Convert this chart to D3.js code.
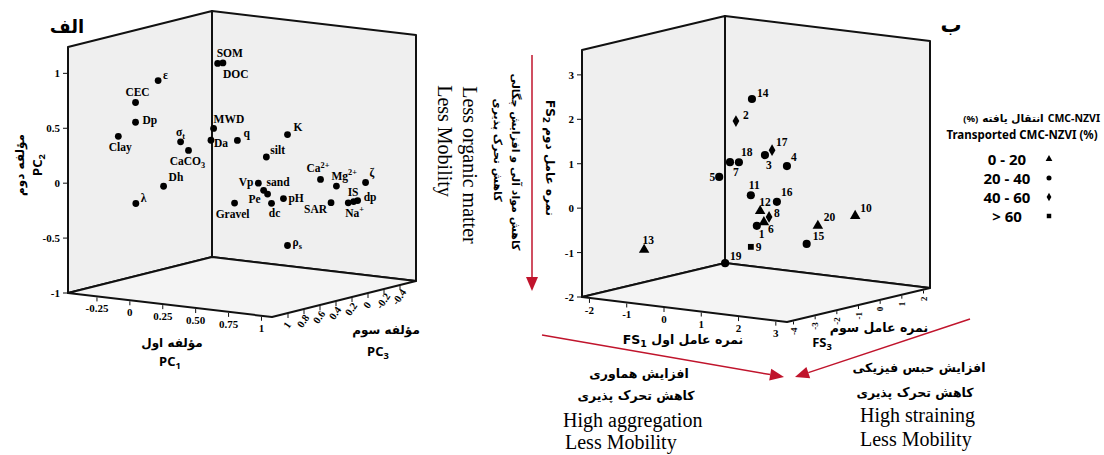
<!DOCTYPE html>
<html>
<head>
<meta charset="utf-8">
<script src="https://cdn.jsdelivr.net/npm/d3@7"></script>
<style>
  body { margin: 0; background: #fff; }
</style>
</head>
<body>
<div id="chart"></div>
<script>
// ---- Left panel (الف): PCA loadings ----
const pcNames = ["ε", "CEC", "Dp", "Clay", "σ_t", "CaCO_3", "Dh", "λ", "SOM", "DOC",
  "MWD", "Da", "q", "K", "silt", "Ca^2+", "Mg^2+", "ζ", "Vp", "sand",
  "Pe", "dc", "pH", "Gravel", "SAR", "Na^+", "IS", "dp", "ρ_s"];
const pc1 = [-0.15, -0.20, -0.20, -0.27, -0.04, 0.02, -0.23, -0.38, 0.12, 0.16,
  0.15, 0.13, 0.27, 0.59, 0.49, 0.78, 0.84, 0.94, 0.49, 0.53,
  0.56, 0.59, 0.62, 0.37, 0.86, 0.93, 0.91, 0.91, 0.59];
const pc2 = [0.87, 0.70, 0.52, 0.40, 0.31, 0.24, -0.14, -0.30, 1.01, 1.02,
  0.44, 0.33, 0.33, 0.41, 0.21, 0.01, -0.06, -0.05, -0.01, -0.07,
  -0.10, -0.18, -0.15, -0.19, -0.19, -0.20, -0.21, -0.21, -0.60];
const pc3 = [0.6, 0.8, 0.8, 0.9, 0.5, 0.5, 0.4, 0.5, 0.3, 0.3,
  0.4, 0.4, 0.3, 0.2, 0.3, 0.1, 0, -0.2, 0.4, 0.4,
  0.4, 0.4, 0.3, 0.5, 0.1, 0, -0.1, -0.15, 0.2];

const pc1Ticks = [-0.25, 0, 0.25, 0.5, 0.75, 1];
const pc1TickLabels = ["-0.25", "0", "0.25", "0.50", "0.75", "1"];
const pc2Ticks = [-1, -0.5, 0, 0.5, 1];
const pc3Ticks = [1, 0.8, 0.6, 0.4, 0.2, 0, -0.2, -0.4];

// ---- Right panel (ب): factor scores of the 20 soils ----
const sampleIds = [1, 2, 3, 4, 5, 6, 7, 8, 9, 10, 11, 12, 13, 14, 15, 16, 17, 18, 19, 20];
const fs1 = [-0.30, -0.86, 0.50, 1.38, -1.60, 0.18, -1.02, 0.61, -0.46, 2.92,
  -0.17, 0.08, -1.87, -0.14, 2.20, 0.82, 0.69, -0.49, -0.86, 2.50];
const fs2 = [-0.76, 1.54, 1.03, 0.93, 0.15, -0.57, 0.60, -0.35, -1.25, -0.09,
  0.00, -0.33, -1.17, 2.17, -0.68, 0.01, 1.16, 0.71, -1.60, -0.24];
const fs3 = [0.5, 0.5, -0.5, -1, 1, 0, 0.5, -0.5, 0.5, -0.5,
  0, 0, -2, 0, -1.5, -0.5, -0.5, 0, 0, -1.5];
// transported CMC-NZVI class: 0 = 0-20, 1 = 20-40, 2 = 40-60, 3 = >60
const transportClass = [1, 2, 1, 1, 1, 0, 1, 2, 3, 0,
  1, 0, 0, 1, 1, 1, 2, 1, 1, 0];
const classLabels = ["0 - 20", "20 - 40", "40 - 60", "> 60"];

const fs1Ticks = [-2, -1, 0, 1, 2, 3];
const fs2Ticks = [-2, -1, 0, 1, 2, 3];
const fs3Ticks = [-4, -3, -2, -1, 0, 1, 2];

// ---- Drawing ----
const width = 1104, height = 455;
const serif = "'Liberation Serif', 'Times New Roman', serif";
const sans = "'Noto Sans', 'DejaVu Sans', sans-serif";
const arabic = "'DejaVu Sans', sans-serif";
const red = '#c0142c';

const svg = d3.select('#chart')
  .append('svg')
  .attr('width', width)
  .attr('height', height)
  .attr('viewBox', `0 0 ${width} ${height}`);

// oblique projection of a 3D box: origin, and screen vectors of the x, y, z edges
function makeBox(o, ex, ey, ez, xs, ys, zs) {
  const p = (a, b, c) => {
    const u = xs(a), v = ys(b), w = zs(c);
    return [o[0] + ex[0] * u + ez[0] * w + ey[0] * v,
            o[1] + ex[1] * u + ez[1] * w + ey[1] * v];
  };
  p.xs = xs; p.ys = ys; p.zs = zs;
  return p;
}

function drawFrame(p) {
  const [x0, x1] = p.xs.domain(), [y0, y1] = p.ys.domain(), [z0, z1] = p.zs.domain();
  const faces = [
    [[x0, y0, z0], [x0, y0, z1], [x0, y1, z1], [x0, y1, z0]],  // left wall
    [[x0, y0, z1], [x1, y0, z1], [x1, y1, z1], [x0, y1, z1]],  // back wall
    [[x0, y0, z0], [x1, y0, z0], [x1, y0, z1], [x0, y0, z1]]   // floor
  ];
  svg.append('g').selectAll('polygon')
    .data(faces)
    .join('polygon')
    .attr('points', d => d.map(c => p(...c).join(',')).join(' '))
    .attr('fill', (d, i) => i === 2 ? '#f4f4f4' : '#efefef')
    .attr('stroke', '#111')
    .attr('stroke-width', 2)
    .attr('stroke-linejoin', 'round');
}

// label with a simple _sub or ^sup part
function richText(sel, str, size) {
  const m = str.match(/^([^_^]*)([_^])(.*)$/);
  if (!m) { sel.text(str); return; }
  sel.append('tspan').text(m[1]);
  sel.append('tspan')
    .attr('font-size', size * 0.72)
    .attr('dy', m[2] === '_' ? size * 0.25 : -size * 0.4)
    .text(m[3]);
}

function arrow(x1, y1, x2, y2) {
  const a = Math.atan2(y2 - y1, x2 - x1), L = 14, W = 6;
  const bx = x2 - L * Math.cos(a), by = y2 - L * Math.sin(a);
  svg.append('line')
    .attr('x1', x1).attr('y1', y1).attr('x2', bx).attr('y2', by)
    .attr('stroke', red).attr('stroke-width', 1.5);
  svg.append('polygon')
    .attr('points', [[x2, y2],
      [bx + W * Math.sin(a), by - W * Math.cos(a)],
      [bx - W * Math.sin(a), by + W * Math.cos(a)]].map(q => q.join(',')).join(' '))
    .attr('fill', red);
}

// ===== Left panel =====
const pL = makeBox([68, 293], [204, 24], [0, -246], [144, -36],
  d3.scaleLinear().domain([-0.47, 1.08]).range([0, 1]),
  d3.scaleLinear().domain([-1, 1.24]).range([0, 1]),
  d3.scaleLinear().domain([1.2, -0.6]).range([0, 1]));
drawFrame(pL);

const [lx0, lx1] = pL.xs.domain(), [ly0] = pL.ys.domain(), [lz0] = pL.zs.domain();

// PC2 ticks (front-left edge)
pc2Ticks.forEach(t => {
  const [x, y] = pL(lx0, t, lz0);
  svg.append('line').attr('x1', x - 5).attr('x2', x).attr('y1', y).attr('y2', y)
    .attr('stroke', '#111').attr('stroke-width', 1);
  svg.append('text').attr('x', x - 8).attr('y', y + 4)
    .attr('text-anchor', 'end').attr('font-family', serif).attr('font-weight', 'bold')
    .attr('font-size', 11).text(t);
});

// PC1 ticks (front edge)
pc1Ticks.forEach((t, i) => {
  const [x, y] = pL(t, ly0, lz0);
  svg.append('line').attr('x1', x).attr('x2', x).attr('y1', y + 1).attr('y2', y + 5)
    .attr('stroke', '#111').attr('stroke-width', 1);
  svg.append('text').attr('x', x).attr('y', y + 16)
    .attr('text-anchor', 'middle').attr('font-family', serif).attr('font-weight', 'bold')
    .attr('font-size', 11).text(pc1TickLabels[i]);
});

// PC3 ticks (right floor edge)
pc3Ticks.forEach(t => {
  const [x, y] = pL(lx1, ly0, t);
  svg.append('line').attr('x1', x).attr('x2', x).attr('y1', y + 1).attr('y2', y + 5)
    .attr('stroke', '#111').attr('stroke-width', 1);
  svg.append('text')
    .attr('transform', `translate(${x + 2},${y + 14}) rotate(-55)`)
    .attr('text-anchor', 'middle').attr('font-family', serif).attr('font-weight', 'bold')
    .attr('font-size', 10.5).text(t);
});

// label placement next to each loading point: [dx, dy, anchor]
const pcLabelPos = {
  "ε": [5, -2, 'start'], "CEC": [2, -6, 'middle'], "Dp": [7, 2, 'start'],
  "Clay": [2, 15, 'middle'], "σ_t": [0, -6, 'middle'], "CaCO_3": [-1, 15, 'middle'],
  "Dh": [5, -5, 'start'], "λ": [5, -2, 'start'], "SOM": [-1, -6, 'start'],
  "DOC": [0, 15, 'start'], "MWD": [0, -5, 'start'], "Da": [3, 7, 'start'],
  "q": [6, -3, 'start'], "K": [6, -4, 'start'], "silt": [4, -3, 'start'],
  "Ca^2+": [-14, -7, 'start'], "Mg^2+": [-5, -6, 'start'], "ζ": [4, -6, 'start'],
  "Vp": [-5, 3, 'end'], "sand": [3, -4, 'start'], "Pe": [-7, 9, 'end'],
  "dc": [3, 14, 'middle'], "pH": [5, 3, 'start'], "Gravel": [-2, 15, 'middle'],
  "SAR": [-4, 10, 'end'], "Na^+": [-3, 14, 'start'], "IS": [-6, -6, 'start'],
  "dp": [6, 0, 'start'], "ρ_s": [5, 1, 'start']
};

const gL = svg.append('g');
pcNames.forEach((name, i) => {
  const [x, y] = pL(pc1[i], pc2[i], pc3[i]);
  gL.append('circle').attr('cx', x).attr('cy', y).attr('r', 3.4).attr('fill', '#000');
  const [dx, dy, anchor] = pcLabelPos[name];
  const t = gL.append('text').attr('x', x + dx).attr('y', y + dy)
    .attr('text-anchor', anchor).attr('font-family', serif).attr('font-weight', 'bold')
    .attr('font-size', 11.5);
  richText(t, name, 11.5);
});

// left panel titles
svg.append('text').attr('x', 67).attr('y', 33).attr('text-anchor', 'middle')
  .attr('font-family', arabic).attr('font-weight', 'bold').attr('font-size', 18).text('الف');

svg.append('text').attr('transform', 'translate(24,165) rotate(-90)').attr('text-anchor', 'middle')
  .attr('font-family', arabic).attr('font-weight', 'bold').attr('font-size', 12).text('مؤلفه دوم');
const pc2Title = svg.append('text').attr('transform', 'translate(42,165) rotate(-90)')
  .attr('text-anchor', 'middle').attr('font-family', sans).attr('font-weight', 'bold').attr('font-size', 13);
richText(pc2Title, 'PC_2', 13);

svg.append('text').attr('x', 172).attr('y', 347).attr('text-anchor', 'middle')
  .attr('font-family', arabic).attr('font-weight', 'bold').attr('font-size', 12).text('مؤلفه اول');
const pc1Title = svg.append('text').attr('x', 170).attr('y', 366).attr('text-anchor', 'middle')
  .attr('font-family', sans).attr('font-weight', 'bold').attr('font-size', 13);
richText(pc1Title, 'PC_1', 13);

svg.append('text').attr('x', 386).attr('y', 334).attr('text-anchor', 'middle')
  .attr('font-family', arabic).attr('font-weight', 'bold').attr('font-size', 12).text('مؤلفه سوم');
const pc3Title = svg.append('text').attr('x', 378).attr('y', 356).attr('text-anchor', 'middle')
  .attr('font-family', sans).attr('font-weight', 'bold').attr('font-size', 13);
richText(pc3Title, 'PC_3', 13);

// middle annotation (organic matter)
svg.append('text').attr('transform', 'translate(463,165) rotate(90)').attr('text-anchor', 'middle')
  .attr('font-family', serif).attr('font-size', 20).text('Less organic matter');
svg.append('text').attr('transform', 'translate(438,141) rotate(90)').attr('text-anchor', 'middle')
  .attr('font-family', serif).attr('font-size', 20).text('Less Mobility');
svg.append('text').attr('transform', 'translate(512,162) rotate(90)').attr('text-anchor', 'middle')
  .attr('font-family', arabic).attr('font-weight', 'bold').attr('font-size', 11)
  .text('کاهش مواد آلی و افزایش چگالی');
svg.append('text').attr('transform', 'translate(494,150) rotate(90)').attr('text-anchor', 'middle')
  .attr('font-family', arabic).attr('font-weight', 'bold').attr('font-size', 11)
  .text('کاهش تحرک پذیری');
arrow(532, 55, 532, 291);

// ===== Right panel =====
const pR = makeBox([582, 297], [205, 25], [0, -247], [143, -34],
  d3.scaleLinear().domain([-2.2, 3.3]).range([0, 1]),
  d3.scaleLinear().domain([-2, 3.56]).range([0, 1]),
  d3.scaleLinear().domain([-4.3, 2.3]).range([0, 1]));
drawFrame(pR);

const [rx0, rx1] = pR.xs.domain(), [ry0] = pR.ys.domain(), [rz0] = pR.zs.domain();

fs2Ticks.forEach(t => {
  const [x, y] = pR(rx0, t, rz0);
  svg.append('line').attr('x1', x - 5).attr('x2', x).attr('y1', y).attr('y2', y)
    .attr('stroke', '#111').attr('stroke-width', 1);
  svg.append('text').attr('x', x - 8).attr('y', y + 4)
    .attr('text-anchor', 'end').attr('font-family', serif).attr('font-weight', 'bold')
    .attr('font-size', 11).text(t);
});

fs1Ticks.forEach(t => {
  const [x, y] = pR(t, ry0, rz0);
  svg.append('line').attr('x1', x).attr('x2', x).attr('y1', y + 1).attr('y2', y + 5)
    .attr('stroke', '#111').attr('stroke-width', 1);
  svg.append('text').attr('x', x).attr('y', y + 16)
    .attr('text-anchor', 'middle').attr('font-family', serif).attr('font-weight', 'bold')
    .attr('font-size', 11).text(t);
});

fs3Ticks.forEach(t => {
  const [x, y] = pR(rx1, ry0, t);
  svg.append('line').attr('x1', x).attr('x2', x).attr('y1', y + 1).attr('y2', y + 4)
    .attr('stroke', '#111').attr('stroke-width', 1);
  svg.append('text')
    .attr('transform', `translate(${x + 3},${y + 7}) rotate(-90)`)
    .attr('text-anchor', 'end').attr('font-family', serif).attr('font-weight', 'bold')
    .attr('font-size', 9).text(t);
});

const symbolTypes = [d3.symbolTriangle, d3.symbolCircle, d3.symbolDiamond, d3.symbolSquare];
const symbolSizes = [48, 52, 40, 34];

// label placement next to each sample: [dx, dy, anchor]
const sampleLabelPos = {
  1: [2, 12, 'start'], 2: [7, -2, 'start'], 3: [1, 14, 'start'], 4: [4, -5, 'start'],
  5: [-4, 4, 'end'], 6: [4, 11, 'start'], 7: [3, 14, 'start'], 8: [5, 0, 'start'],
  9: [5, 4, 'start'], 10: [5, -4, 'start'], 11: [-2, -6, 'start'], 12: [-1, -5, 'start'],
  13: [4, -6, 'middle'], 14: [5, -2, 'start'], 15: [6, -4, 'start'], 16: [4, -6, 'start'],
  17: [4, -4, 'start'], 18: [2, -6, 'start'], 19: [5, -3, 'start'], 20: [6, -5, 'start']
};

const gR = svg.append('g');
sampleIds.forEach((id, i) => {
  const [x, y] = pR(fs1[i], fs2[i], fs3[i]);
  const c = transportClass[i];
  gR.append('path')
    .attr('d', d3.symbol().type(symbolTypes[c]).size(symbolSizes[c])())
    .attr('transform', `translate(${x},${y})`)
    .attr('fill', '#000');
  const [dx, dy, anchor] = sampleLabelPos[id];
  gR.append('text').attr('x', x + dx).attr('y', y + dy)
    .attr('text-anchor', anchor).attr('font-family', serif).attr('font-weight', 'bold')
    .attr('font-size', 11.5).text(id);
});

// right panel titles
svg.append('text').attr('x', 951).attr('y', 32).attr('text-anchor', 'middle')
  .attr('font-family', arabic).attr('font-weight', 'bold').attr('font-size', 21).text('ب');

const fs2Title = svg.append('text').attr('transform', 'translate(546,158) rotate(90)')
  .attr('text-anchor', 'middle').attr('font-family', arabic).attr('font-weight', 'bold').attr('font-size', 12);
fs2Title.append('tspan').text('FS');
fs2Title.append('tspan').attr('font-size', 9).attr('dy', 3).text('2');
fs2Title.append('tspan').attr('dy', -3).text(' نمره عامل دوم');

const fs1Title = svg.append('text').attr('x', 683).attr('y', 344)
  .attr('text-anchor', 'middle').attr('font-family', arabic).attr('font-weight', 'bold').attr('font-size', 12.5);
fs1Title.append('tspan').text('FS');
fs1Title.append('tspan').attr('font-size', 9.5).attr('dy', 3).text('1');
fs1Title.append('tspan').attr('dy', -3).text(' نمره عامل اول');

svg.append('text').attr('x', 879).attr('y', 332).attr('text-anchor', 'middle')
  .attr('font-family', arabic).attr('font-weight', 'bold').attr('font-size', 12.5).text('نمره عامل سوم');
const fs3Title = svg.append('text').attr('x', 822).attr('y', 347)
  .attr('text-anchor', 'middle').attr('font-family', sans).attr('font-weight', 'bold').attr('font-size', 13);
richText(fs3Title, 'FS_3', 13);

// legend title: pieces placed right to left so the mixed-direction line reads as in the figure
const legendRight = 1100;
let cursor = legendRight;
['CMC-NZVI', 'انتقال یافته', '(%)'].forEach((piece, i) => {
  const t = svg.append('text').attr('x', cursor).attr('y', 122).attr('text-anchor', 'end')
    .attr('font-family', i === 1 ? arabic : sans).attr('font-weight', 'bold')
    .attr('font-size', i === 2 ? 9.5 : 10.5).text(piece);
  cursor -= t.node().getComputedTextLength() + 4;
});
svg.append('text').attr('x', 1022).attr('y', 139).attr('text-anchor', 'middle')
  .attr('font-family', sans).attr('font-weight', 'bold').attr('font-size', 11.5)
  .text('Transported CMC-NZVI (%)');
const legendY = d3.scalePoint().domain(classLabels).range([159, 216]);
classLabels.forEach((lab, i) => {
  const y = legendY(lab);
  svg.append('text').attr('x', 1007).attr('y', y + 5.5).attr('text-anchor', 'middle')
    .attr('font-family', sans).attr('font-weight', 'bold').attr('font-size', 15).text(lab);
  svg.append('path')
    .attr('d', d3.symbol().type(symbolTypes[i]).size(20)())
    .attr('transform', `translate(1049,${y})`)
    .attr('fill', '#000');
});

// bottom annotations
arrow(542, 335, 784, 377);
arrow(970, 319, 795, 377);

svg.append('text').attr('x', 639).attr('y', 378).attr('text-anchor', 'middle')
  .attr('font-family', arabic).attr('font-weight', 'bold').attr('font-size', 12.5).text('افزایش هماوری');
svg.append('text').attr('x', 636).attr('y', 400).attr('text-anchor', 'middle')
  .attr('font-family', arabic).attr('font-weight', 'bold').attr('font-size', 12.5).text('کاهش تحرک پذیری');
svg.append('text').attr('x', 563).attr('y', 427)
  .attr('font-family', serif).attr('font-size', 20).text('High aggregation');
svg.append('text').attr('x', 565).attr('y', 449)
  .attr('font-family', serif).attr('font-size', 20).text('Less Mobility');

svg.append('text').attr('x', 919).attr('y', 372).attr('text-anchor', 'middle')
  .attr('font-family', arabic).attr('font-weight', 'bold').attr('font-size', 12.5).text('افزایش حبس فیزیکی');
svg.append('text').attr('x', 915).attr('y', 397).attr('text-anchor', 'middle')
  .attr('font-family', arabic).attr('font-weight', 'bold').attr('font-size', 12.5).text('کاهش تحرک پذیری');
svg.append('text').attr('x', 860).attr('y', 422)
  .attr('font-family', serif).attr('font-size', 20).text('High straining');
svg.append('text').attr('x', 860).attr('y', 446)
  .attr('font-family', serif).attr('font-size', 20).text('Less Mobility');
</script>
</body>
</html>
